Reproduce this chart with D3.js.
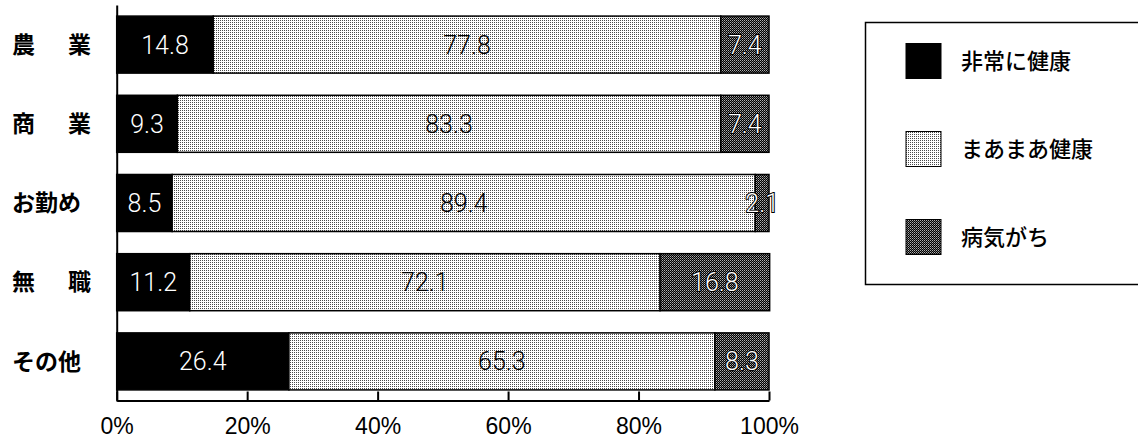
<!DOCTYPE html>
<html>
<head>
<meta charset="utf-8">
<script src="https://cdn.jsdelivr.net/npm/d3@7"></script>
<style>
  html, body { margin: 0; padding: 0; background: #fff; }
  svg { display: block; }
</style>
</head>
<body>
<svg id="chart" width="1138" height="442"></svg>
<script>
// Occupation categories (rows, top to bottom)
const categories = ["農業", "商業", "お勤め", "無職", "その他"];
// Series: share of respondents per health status (%)
const seriesNames = ["非常に健康", "まあまあ健康", "病気がち"];
const verHealthy = [14.8, 9.3, 8.5, 11.2, 26.4];
const fairlyHealthy = [77.8, 83.3, 89.4, 72.1, 65.3];
const oftenIll = [7.4, 7.4, 2.1, 16.8, 8.3];
const xTicks = [0, 20, 40, 60, 80, 100];

const seriesValues = [verHealthy, fairlyHealthy, oftenIll];

const svg = d3.select("#chart");
const defs = svg.append("defs");

// halftone-like fills
const light = defs.append("pattern").attr("id", "patLight")
  .attr("patternUnits", "userSpaceOnUse").attr("width", 2).attr("height", 2);
light.append("rect").attr("width", 2).attr("height", 2).attr("fill", "#fff");
light.append("rect").attr("width", 1).attr("height", 1).attr("fill", "#4a4a4a");

const dark = defs.append("pattern").attr("id", "patDark")
  .attr("patternUnits", "userSpaceOnUse").attr("width", 2).attr("height", 2);
dark.append("rect").attr("width", 2).attr("height", 2).attr("fill", "#000");
dark.append("rect").attr("width", 1).attr("height", 1).attr("fill", "#b0b0b0");
dark.append("rect").attr("x", 1).attr("y", 1).attr("width", 1).attr("height", 1).attr("fill", "#6a6a6a");

const fills = ["#000", "url(#patLight)", "url(#patDark)"];

const x = d3.scaleLinear().domain([0, 100]).range([116.7, 769]);
const y = d3.scaleBand().domain(categories).range([5, 401])
  .paddingInner(0.28).paddingOuter(0.14);

// stacked layout
const rows = categories.map((c, i) => {
  let acc = 0;
  return seriesValues.map((vals, s) => {
    const v = vals[i];
    const seg = { cat: c, s, v, x0: acc, x1: acc + v };
    acc += v;
    return seg;
  });
});

const g = svg.append("g");

const seg = g.selectAll("g.row").data(rows).join("g").attr("class", "row")
  .selectAll("g.seg").data(d => d).join("g").attr("class", "seg");

seg.append("rect")
  .attr("x", d => x(d.x0))
  .attr("y", d => y(d.cat))
  .attr("width", d => x(d.x1) - x(d.x0))
  .attr("height", y.bandwidth())
  .attr("fill", d => fills[d.s])
  .attr("stroke", "#000")
  .attr("stroke-width", 1.5);

seg.append("text")
  .attr("x", d => (x(d.x0) + x(d.x1)) / 2)
  .attr("y", d => y(d.cat) + y.bandwidth() / 2)
  .attr("dy", "0.36em")
  .attr("text-anchor", "middle")
  .attr("font-family", "Roboto, 'Liberation Sans', sans-serif")
  .attr("font-weight", 300)
  .attr("font-size", 25)
  .attr("fill", d => d.s === 1 ? "#000" : "#fff")
  .attr("stroke", d => d.s === 2 ? "#000" : "none")
  .attr("stroke-width", d => d.s === 2 ? 2 : 0)
  .attr("paint-order", "stroke")
  .text(d => d.v.toFixed(1));

// category labels; two-character names are spread over the label width
svg.append("g").selectAll("text").data(categories).join("text")
  .attr("x", 12)
  .attr("y", d => y(d) + y.bandwidth() / 2)
  .attr("dy", "0.36em")
  .attr("font-family", "'Noto Sans CJK JP', sans-serif")
  .attr("font-weight", 700)
  .attr("font-size", 23)
  .attr("fill", "#000")
  .each(function (d) {
    if (d.length === 2) {
      d3.select(this).attr("textLength", 79).attr("lengthAdjust", "spacing");
    }
  })
  .text(d => d);

// x axis with inward ticks
const xAxis = d3.axisBottom(x).tickValues(xTicks).tickSizeInner(-9).tickSizeOuter(0)
  .tickPadding(17).tickFormat(d => d + "%");
const ax = svg.append("g").attr("transform", "translate(0,400.5)").call(xAxis);
ax.select(".domain").attr("stroke", "#000").attr("stroke-width", 2);
ax.selectAll(".tick line").attr("stroke", "#000").attr("stroke-width", 2);
ax.selectAll(".tick text")
  .attr("font-family", "'Liberation Sans', Arial, sans-serif")
  .attr("font-size", 23).attr("fill", "#000");

// y axis line
const yAxis = d3.axisLeft(y).tickSize(0).tickFormat("");
const ay = svg.append("g").attr("transform", `translate(${x(0)},0)`).call(yAxis);
ay.select(".domain").attr("stroke", "#000").attr("stroke-width", 2);

// legend
const lg = svg.append("g");
lg.append("rect").attr("x", 865.5).attr("y", 22.5).attr("width", 290).attr("height", 262)
  .attr("fill", "#fff").attr("stroke", "#000").attr("stroke-width", 1.5);
const ly = d3.scalePoint().domain(seriesNames).range([61, 237]);
const items = lg.selectAll("g.item").data(seriesNames).join("g").attr("class", "item");
items.append("rect")
  .attr("x", 906).attr("y", d => ly(d) - 17.5)
  .attr("width", 35).attr("height", 35)
  .attr("fill", (d, i) => fills[i]).attr("stroke", "#000").attr("stroke-width", 1);
items.append("text")
  .attr("x", 961).attr("y", d => ly(d))
  .attr("dy", "0.36em")
  .attr("font-family", "'Noto Sans CJK JP', sans-serif")
  .attr("font-weight", 500)
  .attr("font-size", 22)
  .attr("fill", "#000")
  .text(d => d);
</script>
</body>
</html>
